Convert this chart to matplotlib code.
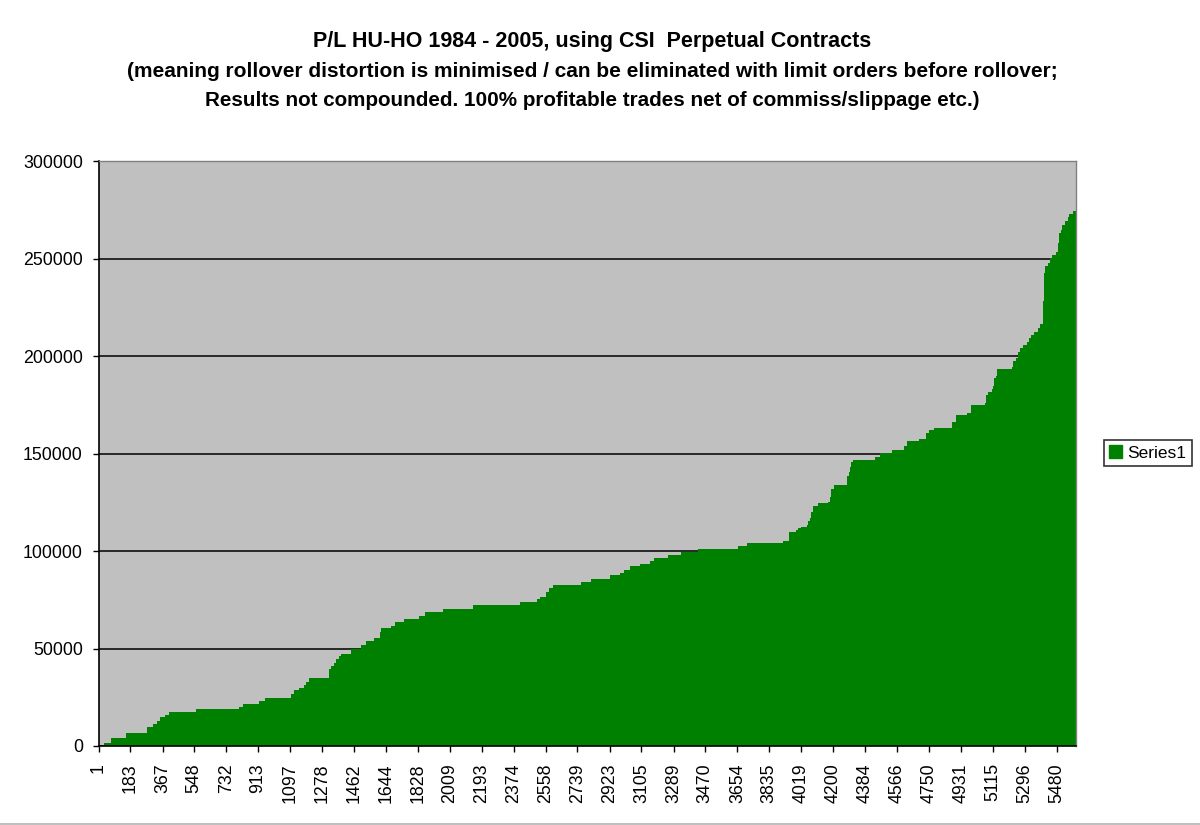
import matplotlib
matplotlib.use("Agg")
import matplotlib.pyplot as plt
from matplotlib.patches import Patch
from matplotlib.lines import Line2D

# Step start (trade/day index) and cumulative P/L level from that index onwards
step_start = [1, 33, 74, 160, 277, 312, 335, 354, 382, 405, 560, 805, 828, 920, 954,
              1102, 1116, 1149, 1175, 1188, 1202, 1320, 1330, 1345, 1358, 1373, 1387,
              1446, 1503, 1530, 1577, 1612, 1618, 1675, 1697, 1745, 1831, 1869, 1968,
              2145, 2412, 2507, 2526, 2561, 2574, 2602, 2762, 2819, 2928, 2981, 3008,
              3042, 3095, 3156, 3178, 3255, 3333, 3430, 3659, 3710, 3916, 3950, 3990,
              4001, 4018, 4052, 4058, 4070, 4075, 4087, 4115, 4172, 4184, 4190, 4207,
              4281, 4293, 4299, 4304, 4316, 4442, 4470, 4539, 4608, 4625, 4694, 4734,
              4751, 4780, 4883, 4906, 4969, 4992, 5072, 5078, 5089, 5112, 5118, 5124,
              5135, 5141, 5227, 5233, 5250, 5261, 5273, 5290, 5313, 5324, 5336, 5353,
              5376, 5387, 5404, 5410, 5416, 5428, 5439, 5451, 5474, 5485, 5496, 5502,
              5513, 5525, 5542, 5553, 5576, 5590]
pl_level = [0, 1500, 4100, 6700, 9700, 11400, 12800, 14900, 16000, 17400, 19000, 20200,
            21500, 23100, 24800, 26700, 28700, 29900, 31300, 33000, 34900, 39700, 41000,
            42700, 44400, 46200, 47200, 49600, 51800, 53800, 55400, 58600, 60500, 61500,
            63600, 65100, 66700, 68700, 70300, 72300, 73800, 75200, 76600, 79000, 81000,
            82700, 84100, 85500, 87700, 88700, 90300, 92300, 93300, 94900, 96400, 97900,
            99500, 101000, 102600, 104100, 105100, 109700, 110800, 111800, 112300, 113300,
            115400, 116900, 120000, 123100, 124600, 125100, 127700, 131800, 133800, 138500,
            140500, 143100, 145600, 146700, 148200, 150300, 151800, 153800, 156400, 157400,
            160500, 162100, 163100, 166200, 169700, 170800, 174900, 175900, 180000, 181500,
            183100, 184600, 188700, 189700, 193300, 194400, 197400, 199000, 202100, 204100,
            205600, 207200, 209200, 210800, 212300, 214400, 216400, 228000, 242400, 246200,
            247800, 250100, 251800, 253500, 257800, 262900, 264600, 267200, 269400, 271100,
            272600, 274400, 274400]

x_tick_labels = ["1", "183", "367", "548", "732", "913", "1097", "1278", "1462", "1644",
                 "1828", "2009", "2193", "2374", "2558", "2739", "2923", "3105", "3289",
                 "3470", "3654", "3835", "4019", "4200", "4384", "4566", "4750", "4931",
                 "5115", "5296", "5480"]
y_ticks = [0, 50000, 100000, 150000, 200000, 250000, 300000]

title_lines = ["P/L HU-HO 1984 - 2005, using CSI  Perpetual Contracts",
               "(meaning rollover distortion is minimised / can be eliminated with limit orders before rollover;",
               "Results not compounded. 100% profitable trades net of commiss/slippage etc.)"]
title_sizes = [15.5, 15.0, 14.9]

plt.rcParams['font.family'] = ['Liberation Sans', 'DejaVu Sans']

fig = plt.figure(figsize=(12, 8.25), dpi=100)
ax = fig.add_axes([98.5 / 1200, 1 - 746 / 825, (1076 - 98.5) / 1200, (746 - 161) / 825])

green = "#008000"
ax.set_facecolor("#c0c0c0")
ax.fill_between(step_start, pl_level, 0, step="post", color=green, linewidth=0, zorder=2)

ax.set_xlim(0.5, 5590.5)
ax.set_ylim(0, 300000)

ax.set_yticks(y_ticks)
ax.set_yticklabels([str(v) for v in y_ticks], fontsize=12.8)
ax.yaxis.grid(True, color="black", linewidth=1.1, zorder=1)
ax.set_axisbelow(True)

ax.set_xticks([int(s) for s in x_tick_labels])
ax.set_xticklabels(x_tick_labels, rotation=90, fontsize=12.8)
ax.tick_params(axis="both", direction="out", length=4.3, width=1, color="black")
ax.tick_params(axis="y", pad=7)
ax.tick_params(axis="x", pad=8)

for side in ("top", "right"):
    ax.spines[side].set_color("#808080")
    ax.spines[side].set_linewidth(1)
for side in ("left", "bottom"):
    ax.spines[side].set_color("black")
    ax.spines[side].set_linewidth(1.2)

for i, line in enumerate(title_lines):
    fig.text(592 / 1200, 1 - (42 + 29.5 * i) / 825, line, ha="center", va="center",
             fontsize=title_sizes[i], fontweight="bold")

handle = Patch(facecolor=green, edgecolor=green)
leg = fig.legend([handle], ["Series1"], loc="center left",
                 bbox_to_anchor=(1104 / 1200, 1 - 453 / 825), fontsize=12.5,
                 frameon=True, fancybox=False, handlelength=0.75, handleheight=0.75,
                 handletextpad=0.3, borderpad=0.3, borderaxespad=0)
leg.get_frame().set_edgecolor("black")
leg.get_frame().set_linewidth(1.2)

fig.add_artist(Line2D([0, 1], [1.5 / 825, 1.5 / 825], transform=fig.transFigure,
                      color="#c0c0c0", linewidth=1.5))

fig.savefig("out.png", dpi=100)
